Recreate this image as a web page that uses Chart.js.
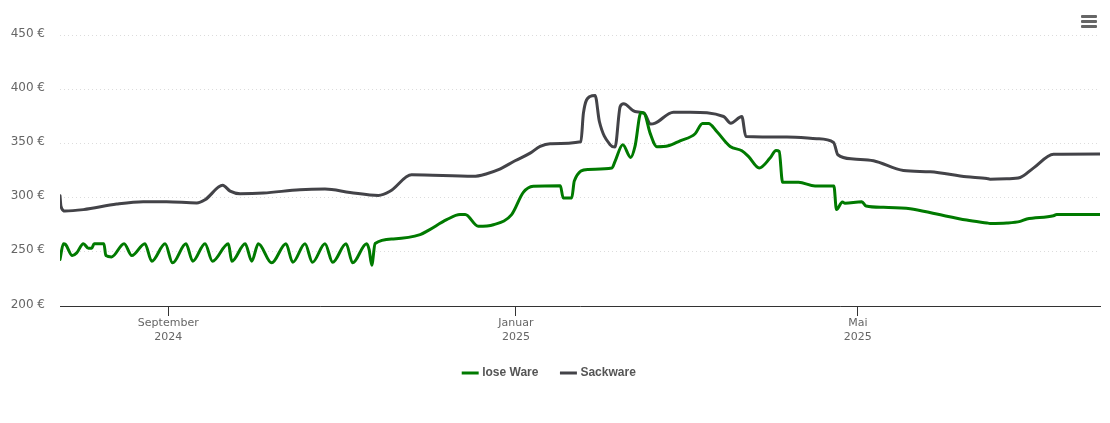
<!DOCTYPE html>
<html><head><meta charset="utf-8">
<script src="https://cdn.jsdelivr.net/npm/chart.js@4/dist/chart.umd.min.js"></script>
<style>
html,body{margin:0;padding:0;background:#fff;overflow:hidden}
#wrap{position:relative;width:1110px;height:423px}
#menu{position:absolute;left:1081px;top:15px;width:16px}
#menu i{display:block;height:3px;background:#666;margin-bottom:2px;border-radius:1px}
</style></head><body>
<div id="wrap"><canvas id="c" width="1110" height="423"></canvas><div id="menu"><i></i><i></i><i></i></div></div>
<script>
// days since 25 Jul 2024
const seriesNames = ["lose Ware","Sackware"];
const yTicks = [200,250,300,350,400,450];
const xTickDays = [38,160,280];
const xTickLabels = [["September","2024"],["Januar","2025"],["Mai","2025"]];
const loseDays = [0,1.2,2,4.3,5.85,8.2,10,11.1,12,15.4,16.1,18.1,22.5,25.2,29.8,32.2,36.9,39.5,44.2,46.6,50.9,53.5,59.1,60.3,65,67.3,69.6,74.3,79.3,81.7,86,88.6,93,95.7,100.4,102.7,107.6,108.5,109.4,110.6,117,126.4,129.3,135.7,140.4,142.2,146.8,152.1,158.5,162.6,166.1,175.6,176.6,179.6,180.5,185.3,193.7,194.8,197.5,200.3,201.8,203.9,205,207.1,209.5,213.5,217.6,222.9,225.5,227.6,230.5,235.2,239.3,241.6,245.4,249.2,251.3,252.4,253.6,259.2,265,271.6,272.5,274.6,275.5,281.4,282.9,289,298.4,307.7,318.2,325.3,326.4,332.3,337,339.3,348.7,349.8,365];
const loseVals = [243,257.5,256.6,246.5,249,257.5,253.2,253.2,257.5,257.5,246.5,245.3,257.5,246.5,257.5,241.3,257.5,239.8,257.5,241.3,257.5,241.3,257.5,241.3,257.5,241.3,257.5,239.8,257.5,240.3,257.5,240.3,257.5,240.3,257.5,239.8,257.5,252,237.6,257.6,261.9,265.8,269.8,279.6,284.3,284.3,273.5,275,284.3,304.8,310.4,311,299.6,299.6,315.3,326,327.3,333.4,348.7,337.1,347.2,378.5,377.9,359.5,346.9,347.8,352.4,358.9,368.4,368.4,361,347.2,343.2,338,327.3,336.5,343.5,342.6,314.1,314.1,310.7,310.8,289,296,294.7,296.2,292.2,291,289.8,284.8,279.3,276.6,276.2,276.6,278.1,280.2,283.3,284.5,284.5];
const sackDays = [0,0.35,1.76,8.2,19.9,29.2,37.4,48,50.9,57.1,59.7,63.2,71.4,84.2,93,101.8,111.7,115.8,123.4,145.1,149.8,153.9,159.7,165,168.5,172,182.8,183.7,186,187.8,189.3,193.1,194.8,196.6,197.8,201.8,205,207.3,208.9,215.3,221.2,232.9,235.4,239.3,240.7,255.1,265.6,271.5,273,278.5,285.5,296,305.4,318.2,325.3,326.4,332.3,337,341.6,348.7,365];
const sackVals = [301.8,291.9,287.6,288.9,294,296.2,296.2,295,298,311.3,306,303.6,304.2,307.3,307.9,304.8,302,305.8,321,319.6,322,325.7,334,341,347.2,349.7,351.5,377.9,393.3,394.2,370.2,348.7,346.6,384,386.5,379.4,377.9,367.8,368.7,378.8,378.8,374.8,368.7,374.8,356.4,355.8,354.3,350.9,339.5,335.6,334,325,323.8,319.2,317.7,317,317.4,318.6,327.2,340,340.3];

const pts = (xs,ys)=>xs.map((x,i)=>({x,y:ys[i]}));
const mk = (label,xs,ys,color)=>({label,data:pts(xs,ys),borderColor:color,backgroundColor:color,borderWidth:3,pointRadius:0,cubicInterpolationMode:'monotone',borderCapStyle:'round',borderJoinStyle:'round'});
new Chart(document.getElementById('c'),{
  type:'line',
  data:{datasets:[mk(seriesNames[0],loseDays,loseVals,'#007a00'),mk(seriesNames[1],sackDays,sackVals,'#434348')]},
  options:{
    responsive:false,animation:false,devicePixelRatio:1,
    layout:{padding:{left:0,right:10,top:35,bottom:34}},
    plugins:{
      tooltip:{enabled:false},
      legend:{display:true,position:'bottom',labels:{usePointStyle:true,pointStyle:'line',boxWidth:16,boxHeight:12,padding:24,color:'#555',font:{family:'"Liberation Sans"',size:12,weight:'bold'}}}
    },
    scales:{
      x:{type:'linear',min:0,max:365,
        afterBuildTicks:a=>{a.ticks=xTickDays.map(v=>({value:v}));},
        afterFit:a=>{a.height=37;},
        border:{color:'#333',width:1},
        grid:{drawOnChartArea:false,color:'#333',tickLength:10,drawTicks:true},
        ticks:{autoSkip:false,maxRotation:0,padding:0,color:'#666',font:{family:'"DejaVu Sans"',size:11,lineHeight:1.3},
          callback:v=>{const i=xTickDays.indexOf(v);return i<0?'':xTickLabels[i];}}},
      y:{min:200,max:450,
        afterBuildTicks:a=>{a.ticks=yTicks.map(v=>({value:v}));},
        afterFit:a=>{a.width=60;},
        border:{display:false,dash:[1,3]},
        grid:{color:'#dcdcdc',lineWidth:1,tickLength:0,drawTicks:false},
        ticks:{padding:15,color:'#666',font:{family:'"DejaVu Sans"',size:12,lineHeight:'3px'},callback:v=>[v+' €','']}}
    }
  }
});
</script></body></html>
